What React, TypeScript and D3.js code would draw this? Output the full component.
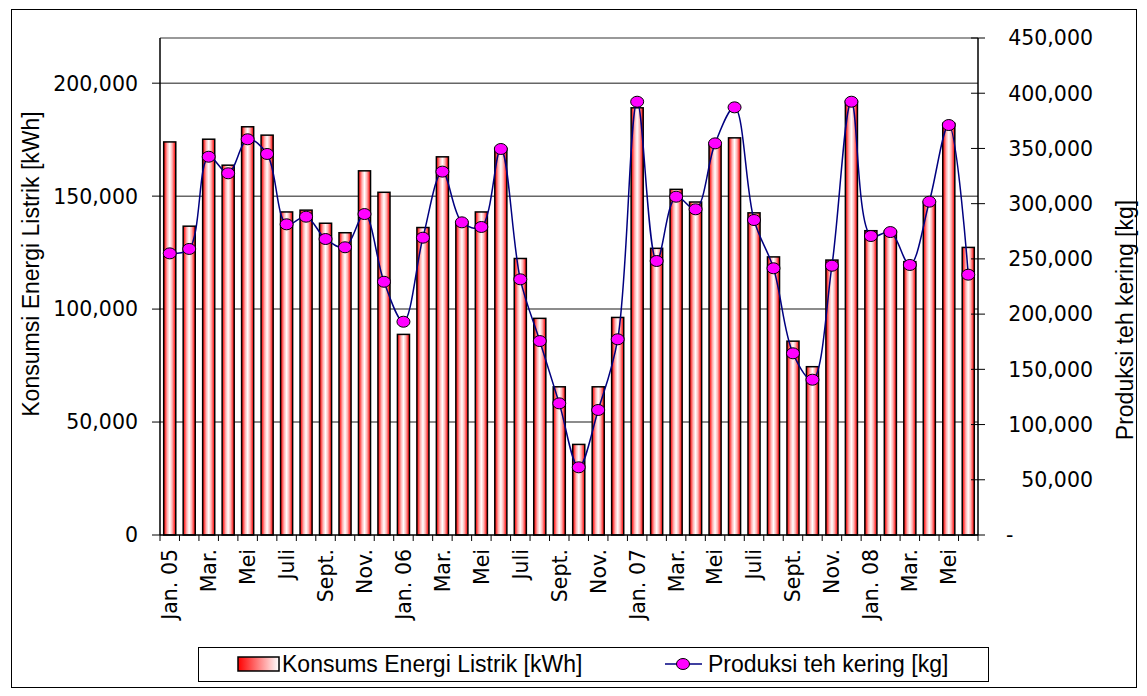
import * as d3 from "d3";

// kategori bulan Jan 2005 - Jun 2008
const months = [
  "Jan. 05", "Feb.", "Mar.", "Apr.", "Mei", "Juni", "Juli", "Agust.", "Sept.", "Okt.", "Nov.", "Des.",
  "Jan. 06", "Feb.", "Mar.", "Apr.", "Mei", "Juni", "Juli", "Agust.", "Sept.", "Okt.", "Nov.", "Des.",
  "Jan. 07", "Feb.", "Mar.", "Apr.", "Mei", "Juni", "Juli", "Agust.", "Sept.", "Okt.", "Nov.", "Des.",
  "Jan. 08", "Feb.", "Mar.", "Apr.", "Mei", "Juni",
];

// konsumsi energi listrik [kWh] (sumbu kiri)
const consumption = [
  174000, 136700, 175200, 163700, 180700, 177000, 143000, 143800, 138000, 133800, 161200, 151700,
  88800, 136100, 167400, 138500, 143000, 171100, 122400, 95900, 65600, 40100, 65600, 96300,
  189100, 126900, 153000, 147400, 173500, 175800, 142600, 123100, 85800, 74500, 121700, 192000,
  134700, 134500, 121000, 147500, 182200, 127300,
];

// produksi teh kering [kg] (sumbu kanan)
const production = [
  255000, 259000, 342500, 327500, 358300, 345000, 281300, 288200, 268000, 260500, 290600, 229300,
  193100, 269200, 329000, 283100, 278900, 349500, 231500, 175600, 119200, 61300, 113200, 177200,
  392300, 248100, 306300, 294900, 354600, 387200, 285200, 241500, 164500, 140600, 243800, 392300,
  270700, 274300, 244500, 301800, 371200, 235700,
];

const leftTicks = [0, 50000, 100000, 150000, 200000];
const rightTicks = [0, 50000, 100000, 150000, 200000, 250000, 300000, 350000, 400000, 450000];

const W = 1147;
const H = 696;
const plot = { left: 160, right: 978, top: 38, bottom: 535 };

const tickFont = "'DejaVu Sans', sans-serif";
const titleFont = "'Liberation Sans', Arial, sans-serif";

export default function App() {
  const idx = months.map((_, i) => i);

  const x = d3
    .scaleBand<number>()
    .domain(idx)
    .range([plot.left, plot.right])
    .paddingInner(0.38)
    .paddingOuter(0.19);
  const step = x.step();
  const center = (i: number) => (x(i) as number) + x.bandwidth() / 2;

  const yL = d3.scaleLinear().domain([0, 220000]).range([plot.bottom, plot.top]);
  const yR = d3.scaleLinear().domain([0, 450000]).range([plot.bottom, plot.top]);

  const line = d3
    .line<number>()
    .x((_, i) => center(i))
    .y((d) => yR(d))
    .curve(d3.curveCatmullRom.alpha(0.5));

  const fmt = d3.format(",");

  return (
    <div style={{ position: "absolute", left: 0, top: 0 }}>
      <svg width={W} height={H} style={{ display: "block" }}>
        <defs>
          <linearGradient id="barGrad" x1="0" x2="1" y1="0" y2="0">
            <stop offset="0%" stopColor="#ff0000" />
            <stop offset="12%" stopColor="#ff3c3c" />
            <stop offset="30%" stopColor="#ffb4b4" />
            <stop offset="50%" stopColor="#ffffff" />
            <stop offset="70%" stopColor="#ffb4b4" />
            <stop offset="88%" stopColor="#ff3c3c" />
            <stop offset="100%" stopColor="#ff0000" />
          </linearGradient>
          <linearGradient id="legGrad" x1="0" x2="1" y1="0" y2="0">
            <stop offset="0%" stopColor="#ff0000" />
            <stop offset="100%" stopColor="#ffffff" />
          </linearGradient>
        </defs>

        <rect x={0} y={0} width={W} height={H} fill="#fff" />
        {/* bingkai luar */}
        <rect x={11.5} y={9.5} width={1125} height={678} fill="none" stroke="#000" strokeWidth={1} />

        {/* garis grid */}
        {leftTicks.slice(1).map((t) => (
          <line key={t} x1={plot.left} x2={plot.right} y1={yL(t)} y2={yL(t)} stroke="#666" strokeWidth={1.5} />
        ))}
        <line x1={plot.left} x2={plot.right} y1={plot.top} y2={plot.top} stroke="#777" strokeWidth={1.5} />

        {/* batang konsumsi */}
        {consumption.map((v, i) => (
          <rect
            key={i}
            x={x(i)}
            y={yL(v)}
            width={x.bandwidth()}
            height={plot.bottom - yL(v)}
            fill="url(#barGrad)"
            stroke="#000"
            strokeWidth={1.5}
          />
        ))}

        {/* sumbu kiri */}
        <line x1={plot.left} x2={plot.left} y1={plot.top} y2={plot.bottom} stroke="#000" strokeWidth={1.5} />
        {leftTicks.map((t) => (
          <g key={t}>
            <line x1={plot.left - 8} x2={plot.left} y1={yL(t)} y2={yL(t)} stroke="#000" strokeWidth={1} />
            <text
              x={138}
              y={yL(t)}
              dy="0.36em"
              textAnchor="end"
              fontFamily={tickFont}
              fontSize={20.5}
            >
              {fmt(t)}
            </text>
          </g>
        ))}

        {/* sumbu kanan */}
        <line x1={plot.right} x2={plot.right} y1={plot.top} y2={plot.bottom} stroke="#000" strokeWidth={1.5} />
        {rightTicks.map((t) => (
          <g key={t}>
            <line x1={plot.right - 7} x2={plot.right + 7} y1={yR(t)} y2={yR(t)} stroke="#000" strokeWidth={1} />
            <text
              x={t === 0 ? 1006 : 1093}
              y={yR(t)}
              dy="0.36em"
              textAnchor={t === 0 ? "start" : "end"}
              fontFamily={tickFont}
              fontSize={20.5}
            >
              {t === 0 ? "-" : fmt(t)}
            </text>
          </g>
        ))}

        {/* sumbu bawah */}
        <line x1={plot.left} x2={plot.right} y1={plot.bottom} y2={plot.bottom} stroke="#000" strokeWidth={1.5} />
        {d3.range(months.length + 1).map((i) => (
          <line
            key={i}
            x1={plot.left + i * step}
            x2={plot.left + i * step}
            y1={plot.bottom}
            y2={plot.bottom + 6}
            stroke="#000"
            strokeWidth={1}
          />
        ))}
        {months.map((m, i) =>
          i % 2 === 0 ? (
            <text
              key={i}
              transform={`translate(${center(i)},${plot.bottom + 14}) rotate(-90)`}
              dy="0.36em"
              textAnchor="end"
              fontFamily={tickFont}
              fontSize={20.5}
            >
              {m}
            </text>
          ) : null
        )}

        {/* garis produksi */}
        <path d={line(production) || ""} fill="none" stroke="#000080" strokeWidth={1.5} />
        {production.map((v, i) => (
          <ellipse key={i} cx={center(i)} cy={yR(v)} rx={6.5} ry={5.5} fill="#ff00ff" stroke="#000" strokeWidth={1} />
        ))}

        {/* judul sumbu */}
        <text
          transform={`translate(31,264) rotate(-90)`}
          dy="0.36em"
          textAnchor="middle"
          fontFamily={titleFont}
          fontSize={23}
        >
          Konsumsi Energi Listrik [kWh]
        </text>
        <text
          transform={`translate(1125,320) rotate(-90)`}
          dy="0.36em"
          textAnchor="middle"
          fontFamily={titleFont}
          fontSize={23}
        >
          Produksi teh kering [kg]
        </text>

        {/* legenda */}
        <rect x={198.5} y={647.5} width={790} height={34} fill="#fff" stroke="#000" strokeWidth={1} />
        <rect x={238} y={657} width={41} height={14} fill="url(#legGrad)" stroke="#000" strokeWidth={1.5} />
        <text x={282} y={664} dy="0.36em" fontFamily={titleFont} fontSize={23}>
          Konsums Energi Listrik [kWh]
        </text>
        <line x1={665} x2={702} y1={664} y2={664} stroke="#000080" strokeWidth={1.5} />
        <ellipse cx={683} cy={664} rx={6.5} ry={5.5} fill="#ff00ff" stroke="#000" strokeWidth={1} />
        <text x={708} y={664} dy="0.36em" fontFamily={titleFont} fontSize={23}>
          Produksi teh kering [kg]
        </text>
      </svg>
    </div>
  );
}
